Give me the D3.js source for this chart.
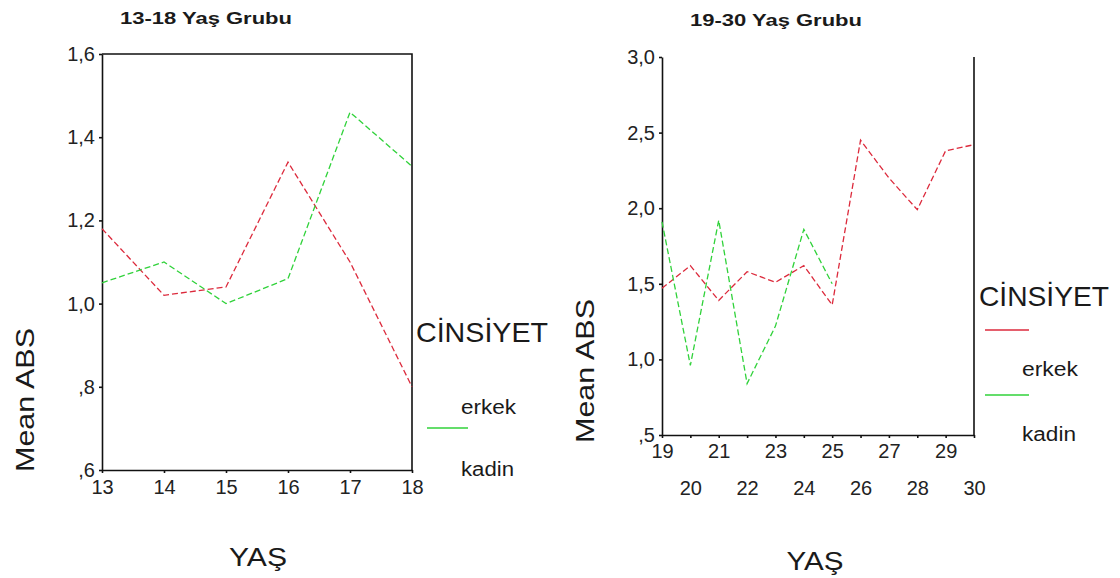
<!DOCTYPE html>
<html>
<head>
<meta charset="utf-8">
<script src="https://cdn.jsdelivr.net/npm/d3@7"></script>
<style>
  body { margin: 0; background: #fff; }
  text { font-family: "Liberation Sans", Arial, sans-serif; fill: #1a1a1a; }
  .axis path, .axis line { stroke: #111; stroke-width: 1.6; }
  .axis text { font-size: 20px; fill: #222; }
</style>
</head>
<body>
<div id="chart"></div>
<script>
// 13-18 group
var ages1 = [13, 14, 15, 16, 17, 18];
var erkek1 = [1.18, 1.02, 1.04, 1.34, 1.10, 0.80];
var kadin1 = [1.05, 1.10, 1.00, 1.06, 1.46, 1.33];
var yTicks1 = [0.6, 0.8, 1.0, 1.2, 1.4, 1.6];

// 19-30 group
var ages2 = [19, 20, 21, 22, 23, 24, 25, 26, 27, 28, 29, 30];
var erkek2 = [1.47, 1.62, 1.39, 1.58, 1.51, 1.62, 1.36, 2.45, 2.20, 1.99, 2.38, 2.42];
var kadinAges2 = [19, 20, 21, 22, 23, 24, 25];
var kadin2 = [1.91, 0.96, 1.92, 0.84, 1.22, 1.86, 1.50];
var yTicks2 = [0.5, 1.0, 1.5, 2.0, 2.5, 3.0];

var red = "#dc2a3c", green = "#30d23a";

var svg = d3.select("#chart").append("svg")
  .attr("width", 1120)
  .attr("height", 578);

// Turkish style: comma decimal, no leading zero
function fmt(v) {
  var s = d3.format(".1f")(v).replace(".", ",");
  return s.indexOf("0,") === 0 ? s.slice(1) : s;
}

function lineOf(x, y, xs, ys, color) {
  var pts = xs.map(function(d, i) { return [d, ys[i]]; });
  svg.append("path")
    .datum(pts)
    .attr("fill", "none")
    .attr("stroke", color)
    .attr("stroke-width", 1.3)
    .attr("stroke-dasharray", "6,3")
    .attr("d", d3.line().x(function(d) { return x(d[0]); }).y(function(d) { return y(d[1]); }));
}

//---------- Left panel
var x1 = d3.scaleLinear().domain([13, 18]).range([102, 412]);
var y1 = d3.scaleLinear().domain([0.6, 1.6]).range([470, 54]);

svg.append("g").attr("class", "axis")
  .attr("transform", "translate(0,470)")
  .call(d3.axisBottom(x1).tickValues(ages1).tickFormat(d3.format("d")).tickSize(3).tickSizeOuter(0).tickPadding(7));
svg.append("g").attr("class", "axis")
  .attr("transform", "translate(102,0)")
  .call(d3.axisLeft(y1).tickValues(yTicks1).tickFormat(fmt).tickSize(3).tickSizeOuter(0).tickPadding(4));
// top and right frame
svg.append("path")
  .attr("d", "M" + x1(13) + "," + y1(1.6) + "H" + x1(18) + "V" + y1(0.6))
  .attr("fill", "none").attr("stroke", "#111").attr("stroke-width", 1.6);

lineOf(x1, y1, ages1, erkek1, red);
lineOf(x1, y1, ages1, kadin1, green);

svg.append("text").attr("x", 206).attr("y", 24).attr("text-anchor", "middle")
  .style("font-size", "16px").style("font-weight", "bold")
  .attr("textLength", 172).attr("lengthAdjust", "spacingAndGlyphs")
  .text("13-18 Yaş Grubu");
svg.append("text").attr("transform", "translate(34,400) rotate(-90)").attr("text-anchor", "middle")
  .style("font-size", "26px").attr("textLength", 144).attr("lengthAdjust", "spacingAndGlyphs")
  .text("Mean ABS");
svg.append("text").attr("x", 258).attr("y", 566).attr("text-anchor", "middle")
  .style("font-size", "26px").attr("textLength", 58).attr("lengthAdjust", "spacingAndGlyphs")
  .text("YAŞ");

// legend left
svg.append("text").attr("x", 416).attr("y", 342)
  .style("font-size", "28px").attr("textLength", 132).attr("lengthAdjust", "spacingAndGlyphs")
  .text("CİNSİYET");
svg.append("text").attr("x", 461).attr("y", 414)
  .style("font-size", "20px").attr("textLength", 55).attr("lengthAdjust", "spacingAndGlyphs")
  .text("erkek");
svg.append("line").attr("x1", 427).attr("x2", 468).attr("y1", 428).attr("y2", 428)
  .attr("stroke", green).attr("stroke-width", 1.6);
svg.append("text").attr("x", 461).attr("y", 476)
  .style("font-size", "20px").attr("textLength", 53).attr("lengthAdjust", "spacingAndGlyphs")
  .text("kadin");

//---------- Right panel
var x2 = d3.scaleLinear().domain([19, 30]).range([662, 974]);
var y2 = d3.scaleLinear().domain([0.5, 3.0]).range([435, 57]);

var xa2 = svg.append("g").attr("class", "axis")
  .attr("transform", "translate(0,435)")
  .call(d3.axisBottom(x2).tickValues(ages2).tickFormat(d3.format("d")).tickSize(3).tickSizeOuter(0).tickPadding(6));
xa2.selectAll(".tick text")
  .attr("dy", function(d) { return d % 2 === 0 ? "2.55em" : "0.71em"; });
svg.append("g").attr("class", "axis")
  .attr("transform", "translate(662,0)")
  .call(d3.axisLeft(y2).tickValues(yTicks2).tickFormat(fmt).tickSize(3).tickSizeOuter(0).tickPadding(4));
svg.append("line")
  .attr("x1", x2(30)).attr("x2", x2(30)).attr("y1", y2(3.0)).attr("y2", y2(0.5))
  .attr("stroke", "#111").attr("stroke-width", 1.6);

lineOf(x2, y2, ages2, erkek2, red);
lineOf(x2, y2, kadinAges2, kadin2, green);

svg.append("text").attr("x", 776).attr("y", 26).attr("text-anchor", "middle")
  .style("font-size", "16px").style("font-weight", "bold")
  .attr("textLength", 172).attr("lengthAdjust", "spacingAndGlyphs")
  .text("19-30 Yaş Grubu");
svg.append("text").attr("transform", "translate(594,371) rotate(-90)").attr("text-anchor", "middle")
  .style("font-size", "26px").attr("textLength", 144).attr("lengthAdjust", "spacingAndGlyphs")
  .text("Mean ABS");
svg.append("text").attr("x", 815).attr("y", 570).attr("text-anchor", "middle")
  .style("font-size", "26px").attr("textLength", 57).attr("lengthAdjust", "spacingAndGlyphs")
  .text("YAŞ");

// legend right
svg.append("text").attr("x", 979).attr("y", 306)
  .style("font-size", "28px").attr("textLength", 130).attr("lengthAdjust", "spacingAndGlyphs")
  .text("CİNSİYET");
svg.append("line").attr("x1", 985).attr("x2", 1029).attr("y1", 330).attr("y2", 330)
  .attr("stroke", red).attr("stroke-width", 1.6);
svg.append("text").attr("x", 1022).attr("y", 376)
  .style("font-size", "20px").attr("textLength", 56).attr("lengthAdjust", "spacingAndGlyphs")
  .text("erkek");
svg.append("line").attr("x1", 985).attr("x2", 1029).attr("y1", 395).attr("y2", 395)
  .attr("stroke", green).attr("stroke-width", 1.6);
svg.append("text").attr("x", 1022).attr("y", 441)
  .style("font-size", "20px").attr("textLength", 54).attr("lengthAdjust", "spacingAndGlyphs")
  .text("kadin");
</script>
</body>
</html>
